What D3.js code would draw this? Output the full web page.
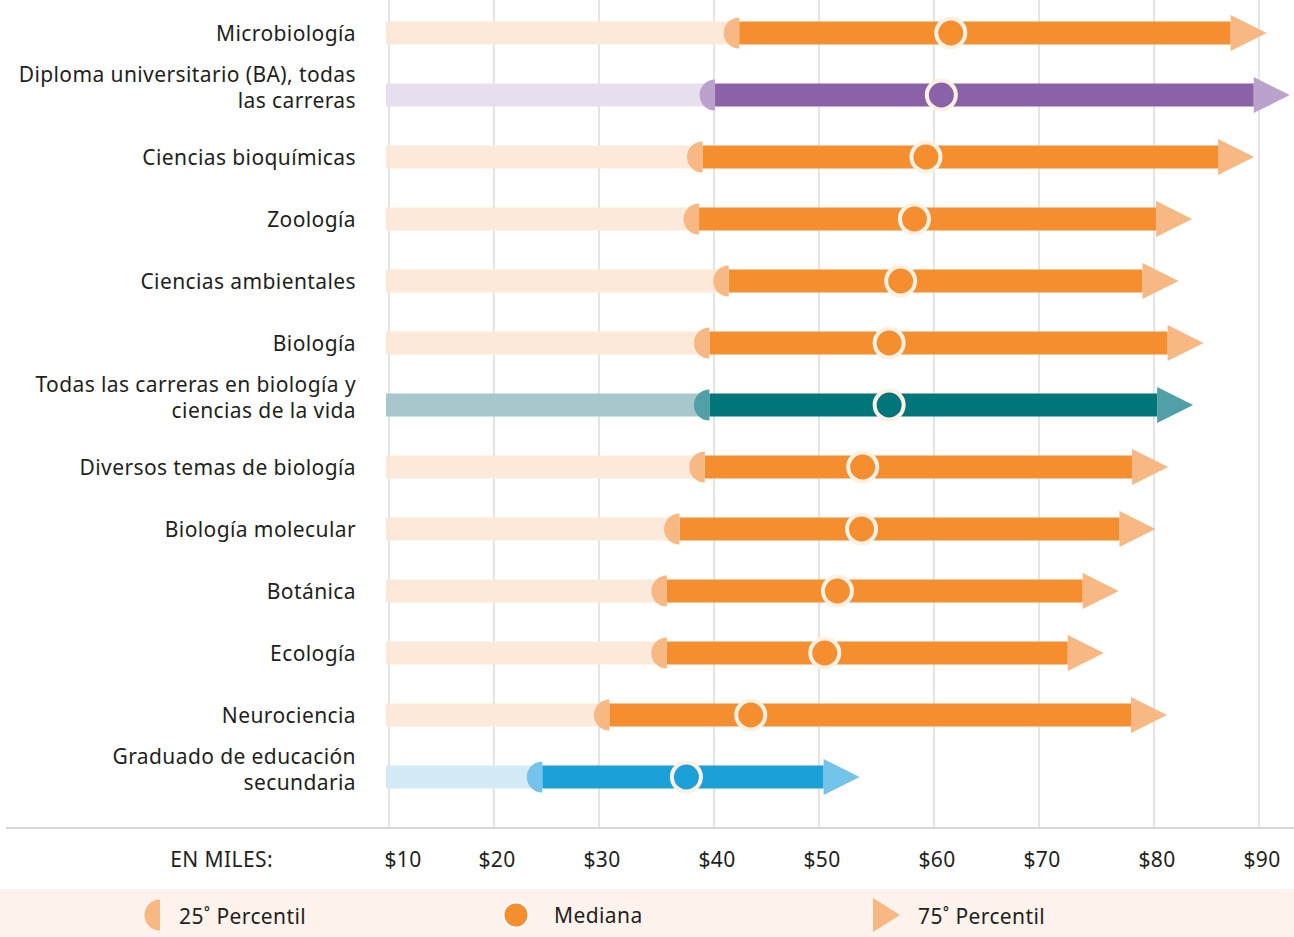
<!DOCTYPE html>
<html>
<head>
<meta charset="utf-8">
<title>Salarios biología</title>
<script src="https://cdn.jsdelivr.net/npm/d3@7"></script>
<style>
body { margin: 0; background: #fff; }
text { font-family: "Noto Sans", sans-serif; fill: #231f20; letter-spacing: 0.4px; }
</style>
</head>
<body>
<script>
// categories, top to bottom
var categories = [
  "Microbiología",
  "Diploma universitario (BA), todas|las carreras",
  "Ciencias bioquímicas",
  "Zoología",
  "Ciencias ambientales",
  "Biología",
  "Todas las carreras en biología y|ciencias de la vida",
  "Diversos temas de biología",
  "Biología molecular",
  "Botánica",
  "Ecología",
  "Neurociencia",
  "Graduado de educación|secundaria"
];
// salary in thousands of dollars
var p25    = [42.4, 40.1, 39.0, 38.7, 41.4, 39.6, 39.6, 39.2, 37.0, 35.9, 35.9, 30.9, 24.6];
var median = [61.6, 60.7, 59.3, 58.3, 57.1, 56.1, 56.1, 53.8, 53.7, 51.6, 50.5, 43.5, 37.6];
var p75    = [87.3, 89.5, 86.1, 80.2, 79.0, 81.3, 80.3, 78.1, 77.0, 73.8, 72.5, 78.0, 50.4];
var group  = ["bio", "ba", "bio", "bio", "bio", "bio", "all", "bio", "bio", "bio", "bio", "bio", "hs"];
var ticks  = [10, 20, 30, 40, 50, 60, 70, 80, 90];

var palette = {
  bio: {light: "#fce9d9", dark: "#f58e2f", mark: "#f8b883"},
  ba:  {light: "#e7dff0", dark: "#8b62a8", mark: "#bba2cd"},
  all: {light: "#a6c8cc", dark: "#00767a", mark: "#52a0a7"},
  hs:  {light: "#d3ebf7", dark: "#1ba0d8", mark: "#74c3ea"}
};

var w = 1294, h = 937;
var svg = d3.select("body").append("svg").attr("width", w).attr("height", h);

// the printed grid is not evenly spaced, so map each tick to its own position
var x = d3.scaleLinear().domain(ticks).range([389, 494, 599, 714, 819, 934, 1039, 1154, 1259]);
var y = d3.scaleBand().domain(d3.range(categories.length)).range([2, 808]);
var barH = 23, semiR = 15.5, arrW = 36, arrH = 36;

// gridlines
svg.append("g").selectAll("line").data(ticks).enter().append("line")
  .attr("x1", function(d){ return x(d); }).attr("x2", function(d){ return x(d); })
  .attr("y1", 0).attr("y2", 828)
  .attr("stroke", "#e4e4e4").attr("stroke-width", 2);

// axis baseline
svg.append("line").attr("x1", 6).attr("x2", w).attr("y1", 828).attr("y2", 828)
  .attr("stroke", "#d6d6d6").attr("stroke-width", 2);

var rows = svg.append("g").selectAll("g").data(categories).enter().append("g")
  .attr("transform", function(d, i){ return "translate(0," + (y(i) + y.bandwidth() / 2) + ")"; });

// labels
rows.append("text")
  .attr("text-anchor", "end")
  .attr("font-size", 21)
  .each(function(d){
    var lines = d.split("|");
    var t = d3.select(this);
    lines.forEach(function(l, k){
      t.append("tspan").attr("x", 356)
        .attr("y", lines.length > 1 ? 13 + (k - 1) * 26 : 8)
        .text(l);
    });
  });

// light bar
rows.append("rect")
  .attr("x", x(10) - 3)
  .attr("y", -barH / 2)
  .attr("width", function(d, i){ return x(p25[i]) - x(10) + 3; })
  .attr("height", barH)
  .attr("fill", function(d, i){ return palette[group[i]].light; });

// dark bar 25-75
rows.append("rect")
  .attr("x", function(d, i){ return x(p25[i]); })
  .attr("y", -barH / 2)
  .attr("width", function(d, i){ return x(p75[i]) - x(p25[i]); })
  .attr("height", barH)
  .attr("fill", function(d, i){ return palette[group[i]].dark; });

// 75th arrow
rows.append("path")
  .attr("d", function(d, i){
    var x0 = x(p75[i]);
    return "M" + x0 + "," + (-arrH / 2) + "L" + (x0 + arrW) + ",0L" + x0 + "," + (arrH / 2) + "Z";
  })
  .attr("fill", function(d, i){ return palette[group[i]].mark; });

// 25th semicircle
var semi = d3.arc().innerRadius(0).outerRadius(semiR).startAngle(Math.PI).endAngle(2 * Math.PI);
rows.append("path")
  .attr("transform", function(d, i){ return "translate(" + x(p25[i]) + ",0)"; })
  .attr("d", semi())
  .attr("fill", function(d, i){ return palette[group[i]].mark; });

// median
rows.append("circle")
  .attr("cx", function(d, i){ return x(median[i]); })
  .attr("r", 14.5)
  .attr("fill", function(d, i){ return palette[group[i]].dark; })
  .attr("stroke", "#fdf1e4").attr("stroke-width", 4);

// tick labels
svg.append("g").selectAll("text").data(ticks).enter().append("text")
  .attr("x", function(d){ return x(d) + (d === 10 ? 14 : 3); })
  .attr("y", 867)
  .attr("text-anchor", "middle")
  .attr("font-size", 21)
  .text(function(d){ return "$" + d; });

svg.append("text").attr("x", 273).attr("y", 867).attr("text-anchor", "end")
  .attr("font-size", 21).text("EN MILES:");

// legend
var leg = svg.append("g");
leg.append("rect").attr("x", 0).attr("y", 889).attr("width", w).attr("height", 48).attr("fill", "#fdf3ec");
var ly = 915;
leg.append("path").attr("transform", "translate(160," + ly + ")").attr("d", semi()).attr("fill", palette.bio.mark);
leg.append("text").attr("x", 179).attr("y", ly + 9).attr("font-size", 21).text("25˚ Percentil");
leg.append("circle").attr("cx", 516).attr("cy", ly).attr("r", 12.5)
  .attr("fill", palette.bio.dark).attr("stroke", "#ffffff").attr("stroke-width", 2);
leg.append("text").attr("x", 554).attr("y", ly + 8).attr("font-size", 21).text("Mediana");
leg.append("path")
  .attr("d", "M873," + (ly - 17) + "L900," + ly + "L873," + (ly + 17) + "Z")
  .attr("fill", palette.bio.mark);
leg.append("text").attr("x", 918).attr("y", ly + 9).attr("font-size", 21).text("75˚ Percentil");
</script>
</body>
</html>
